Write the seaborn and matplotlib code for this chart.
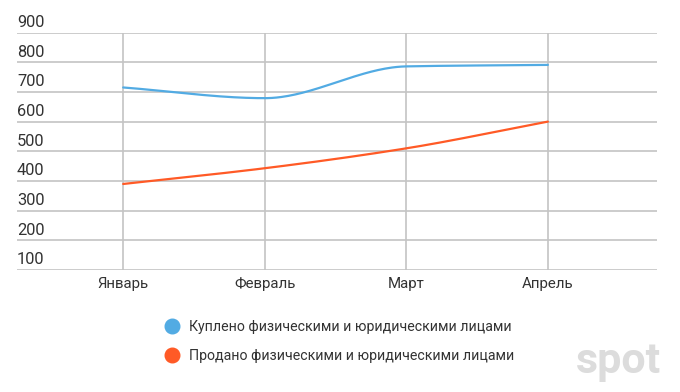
import numpy as np
import pandas as pd
import matplotlib
matplotlib.use('Agg')
import matplotlib.pyplot as plt
import matplotlib.transforms as mtransforms
from matplotlib.lines import Line2D
import seaborn as sns

months = ['Январь', 'Февраль', 'Март', 'Апрель']
bought = [715, 679, 786, 791]
sold = [390, 443, 510, 600]
series_names = ['Куплено физическими и юридическими лицами',
                'Продано физическими и юридическими лицами']
colors = ['#52abe3', '#ff5a26']
y_ticks = [100, 200, 300, 400, 500, 600, 700, 800, 900]


def monotone_curve(y, n=60):
    # Fritsch-Carlson monotone cubic, only used to draw the smooth line
    y = np.asarray(y, dtype=float)
    x = np.arange(len(y), dtype=float)
    d = np.diff(y)
    m = np.zeros_like(y)
    m[0], m[-1] = d[0], d[-1]
    for i in range(1, len(y) - 1):
        m[i] = 0.0 if d[i - 1] * d[i] <= 0 else 2.0 / (1.0 / d[i - 1] + 1.0 / d[i])
    xs, ys = [], []
    for i in range(len(y) - 1):
        t = np.linspace(0, 1, n, endpoint=(i == len(y) - 2))
        h00 = 2 * t**3 - 3 * t**2 + 1
        h10 = t**3 - 2 * t**2 + t
        h01 = -2 * t**3 + 3 * t**2
        h11 = t**3 - t**2
        xs.append(x[i] + t)
        ys.append(h00 * y[i] + h10 * m[i] + h01 * y[i + 1] + h11 * m[i + 1])
    return np.concatenate(xs), np.concatenate(ys)


frames = []
for name, vals in zip(series_names, [bought, sold]):
    xs, ys = monotone_curve(vals)
    frames.append(pd.DataFrame({'x': xs, 'y': ys, 'series': name}))
df = pd.concat(frames, ignore_index=True)

sns.set_style('white')
plt.rcParams['font.family'] = ['Roboto', 'DejaVu Sans']

fig = plt.figure(figsize=(6.8, 3.92), dpi=100)
ax = fig.add_axes([0.025, 0.311, 0.941, 0.606])

sns.lineplot(data=df, x='x', y='y', hue='series', palette=colors,
             linewidth=1.6, legend=False, ax=ax, sort=False, zorder=3)

ax.set_xlim(-0.75, 3.77)
ax.set_ylim(100, 900)
ax.set_xticks(range(len(months)))
ax.set_xticklabels(months, fontsize=10.8, color='#333333')
ax.set_yticks(y_ticks)
ax.set_yticklabels([])
ax.tick_params(axis='both', length=0)
ax.tick_params(axis='x', pad=5)
ax.set_xlabel('')
ax.set_ylabel('')
ax.grid(True, color='#c4c4c4', linewidth=1.2)
for s in ax.spines.values():
    s.set_visible(False)

trans = mtransforms.blended_transform_factory(ax.transAxes, ax.transData)
for v in y_ticks:
    ax.text(0.0, v + 9, str(v), transform=trans, ha='left', va='bottom',
            fontsize=11.8, color='#333333')

handles = [Line2D([], [], marker='o', linestyle='none', markersize=10.5,
                  markerfacecolor=c, markeredgecolor=c) for c in colors]
fig.legend(handles, series_names, loc='upper left', bbox_to_anchor=(0.224, 0.198),
           frameon=False, fontsize=10.2, labelcolor='#333333', handletextpad=0.2,
           labelspacing=1.05, borderaxespad=0)

fig.text(0.972, 0.025, 'spot', ha='right', va='bottom', fontsize=31,
         fontweight='bold', color='#dcdcdc')

fig.savefig('out.png', dpi=100)
